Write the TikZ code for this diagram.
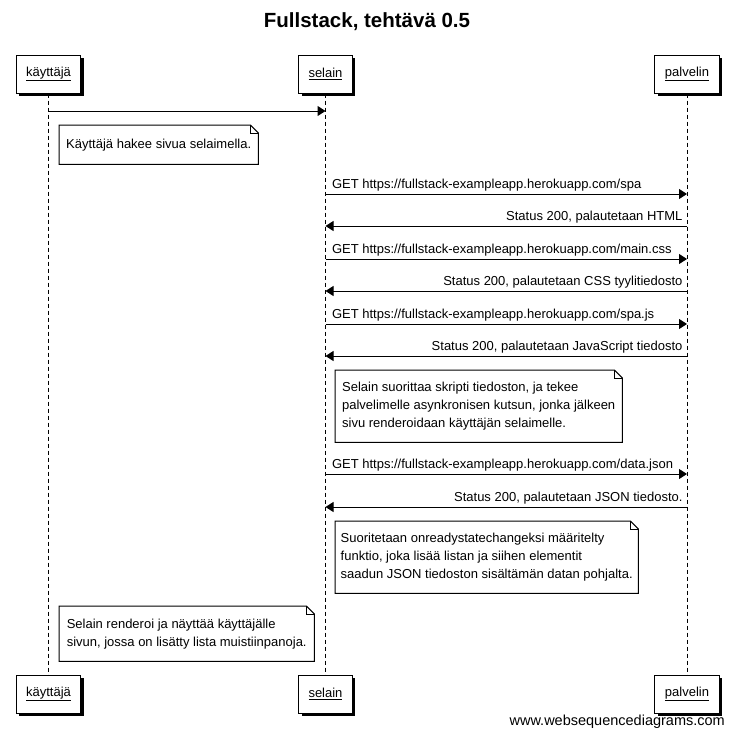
\documentclass[tikz,border=0pt]{standalone}
\usepackage{fontspec}
\setmainfont{Liberation Sans}
\usetikzlibrary{arrows.meta, shadows}

\tikzset{
  actor/.style={draw, fill=white, line width=1pt, inner xsep=10pt, minimum height=38pt,
    font=\fontsize{13}{15}\selectfont,
    drop shadow={shadow xshift=3pt, shadow yshift=-3pt, fill=black, opacity=1}},
  lifeline/.style={line width=1pt, dash pattern=on 4pt off 3pt},
  msg/.style={line width=1pt, -{Triangle[length=8pt, width=10pt]}},
  lbl/.style={font=\fontsize{13}{15}\selectfont, inner sep=2pt},
  note/.style={anchor=north west, inner xsep=5pt, inner ysep=2pt, align=left,
    font=\fontsize{13}{18}\selectfont},
}

% folded corner frame round a note node
\newcommand{\notebox}[1]{
  \draw [line width=1pt] (#1.north west) -- ([xshift=-8pt]#1.north east)
    -- ([yshift=-8pt]#1.north east) -- (#1.south east) -- (#1.south west) -- cycle;
  \draw [line width=.8pt] ([xshift=-8pt]#1.north east) |- ([yshift=-8pt]#1.north east);
}

\begin{document}
\begin{tikzpicture}[x=1pt, y=-1pt]
    \useasboundingbox (0,0) rectangle (733,737);

    \node (title) at (367,22) {\fontsize{20.5}{24}\selectfont\bfseries Fullstack, tehtävä 0.5};

    \node [actor] (kayttaja) at (48.5,74) {\underline{käyttäjä}};
    \node [actor] (selain) at (325.5,74) {\underline{selain}};
    \node [actor] (palvelin) at (687,74) {\underline{palvelin}};

    \node [actor] (kayttajab) at (48.5,694) {\underline{käyttäjä}};
    \node [actor] (selainb) at (325.5,694) {\underline{selain}};
    \node [actor] (palvelinb) at (687,694) {\underline{palvelin}};

    \draw [lifeline] (kayttaja) -- (kayttajab);
    \draw [lifeline] (selain) -- (selainb);
    \draw [lifeline] (palvelin) -- (palvelinb);

    \coordinate (k0) at (48.5,111);
    \coordinate (s0) at (325.5,111);
    \coordinate (s1) at (325.5,194);
    \coordinate (p1) at (687,194);
    \coordinate (s2) at (325.5,226);
    \coordinate (p2) at (687,226);
    \coordinate (s3) at (325.5,259);
    \coordinate (p3) at (687,259);
    \coordinate (s4) at (325.5,291);
    \coordinate (p4) at (687,291);
    \coordinate (s5) at (325.5,324);
    \coordinate (p5) at (687,324);
    \coordinate (s6) at (325.5,356);
    \coordinate (p6) at (687,356);
    \coordinate (s7) at (325.5,474);
    \coordinate (p7) at (687,474);
    \coordinate (s8) at (325.5,507);
    \coordinate (p8) at (687,507);

    \draw [msg] (k0) -- (s0);

    \node [note, minimum width=199pt, minimum height=39pt] (n1) at (59,125)
      {Käyttäjä hakee sivua selaimella.};
    \notebox{n1}

    \draw [msg] (s1) -- (p1) node [lbl, pos=0, anchor=south west, xshift=4pt]
      {GET https://fullstack-exampleapp.herokuapp.com/spa};
    \draw [msg] (p2) -- (s2) node [lbl, pos=0, anchor=south east, xshift=-2pt]
      {Status 200, palautetaan HTML};
    \draw [msg] (s3) -- (p3) node [lbl, pos=0, anchor=south west, xshift=4pt]
      {GET https://fullstack-exampleapp.herokuapp.com/main.css};
    \draw [msg] (p4) -- (s4) node [lbl, pos=0, anchor=south east, xshift=-2pt]
      {Status 200, palautetaan CSS tyylitiedosto};
    \draw [msg] (s5) -- (p5) node [lbl, pos=0, anchor=south west, xshift=4pt]
      {GET https://fullstack-exampleapp.herokuapp.com/spa.js};
    \draw [msg] (p6) -- (s6) node [lbl, pos=0, anchor=south east, xshift=-2pt]
      {Status 200, palautetaan JavaScript tiedosto};

    \node [note, minimum width=287pt, minimum height=72pt] (n2) at (335,370)
      {Selain suorittaa skripti tiedoston, ja tekee\\
       palvelimelle asynkronisen kutsun, jonka jälkeen\\
       sivu renderoidaan käyttäjän selaimelle.};
    \notebox{n2}

    \draw [msg] (s7) -- (p7) node [lbl, pos=0, anchor=south west, xshift=4pt]
      {GET https://fullstack-exampleapp.herokuapp.com/data.json};
    \draw [msg] (p8) -- (s8) node [lbl, pos=0, anchor=south east, xshift=-2pt]
      {Status 200, palautetaan JSON tiedosto.};

    \node [note, minimum width=303pt, minimum height=72pt] (n3) at (335,521)
      {Suoritetaan onreadystatechangeksi määritelty\\
       funktio, joka lisää listan ja siihen elementit\\
       saadun JSON tiedoston sisältämän datan pohjalta.};
    \notebox{n3}

    \node [note, minimum width=255pt, minimum height=55pt] (n4) at (59,606)
      {Selain renderoi ja näyttää käyttäjälle\\
       sivun, jossa on lisätty lista muistiinpanoja.};
    \notebox{n4}

    \node [anchor=base east, inner sep=0pt] (credit) at (725,725)
      {\fontsize{14.5}{16}\selectfont www.websequencediagrams.com};
\end{tikzpicture}
\end{document}
